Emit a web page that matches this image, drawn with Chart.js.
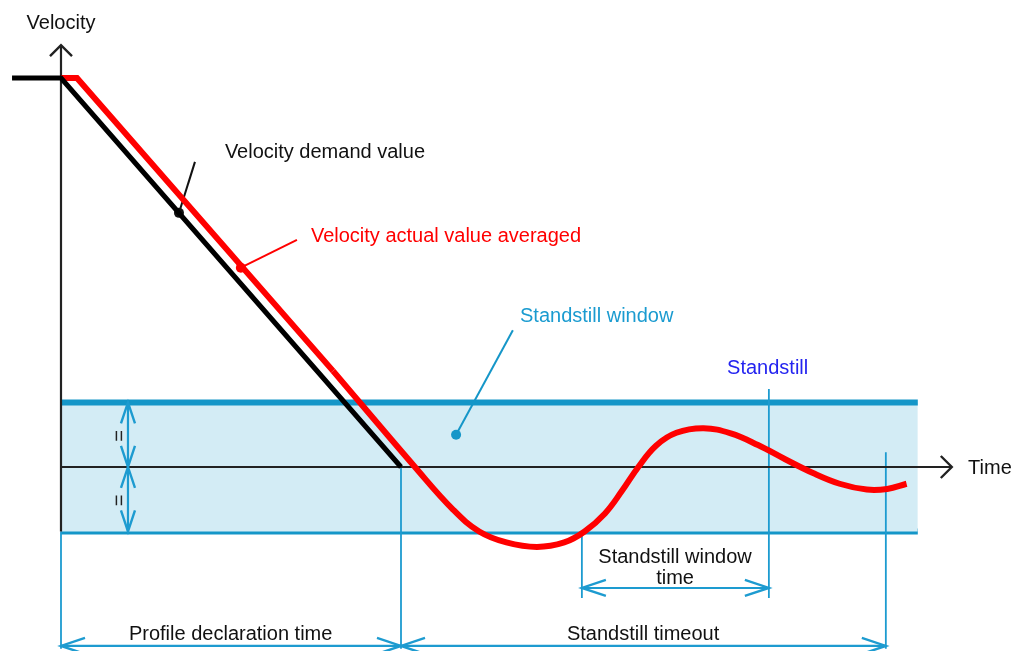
<!DOCTYPE html>
<html>
<head>
<meta charset="utf-8">
<script src="https://cdn.jsdelivr.net/npm/chart.js@4.4.0/dist/chart.umd.min.js"></script>
<style>
  html, body { margin: 0; padding: 0; background: #fff; }
  #wrap { width: 1018px; height: 651px; }
</style>
</head>
<body>
<div id="wrap"><canvas id="chart" width="1018" height="651"></canvas></div>
<script>
// time: 0 = start of ramp, 10 = demand reaches zero
// velocity: +-1 = standstill window, 6 = start velocity
const demandT = [-1.44, 0, 10];
const demandV = [6.03, 6.03, 0];

const actualRampT = [0, 0.47, 8.0];
const actualRampV = [6.03, 6.03, 1.49];
const actualWaveT = [8.0, 10.41, 11.53, 12.3, 13.1, 14.0, 14.8, 15.4, 16.0, 16.5, 16.98, 17.5, 18.1, 18.9, 19.7, 20.5, 21.3, 22.1, 22.9, 23.7, 24.3, 24.87];
const actualWaveV = [1.49, 0, -0.66, -1.0, -1.17, -1.24, -1.17, -1.0, -0.72, -0.37, 0, 0.33, 0.53, 0.6, 0.52, 0.34, 0.12, -0.09, -0.26, -0.35, -0.34, -0.26];

const windowLimit = 1;
const windowEndT = 25.2;
const timeAxisEnd = 26.2;
const velocityAxisEnd = 6.54;

// vertical guide lines
const guideT = [0, 10, 15.32, 20.82, 24.26];
const guideTop = [-1, 0, -1, 1.21, 0.23];
const guideBottom = [-2.82, -2.82, -2.03, -2.03, -2.82];

// dimension arrows (time spans)
const spanFrom = [0, 10, 15.32];
const spanTo = [10, 24.26, 20.82];
const spanLevel = [-2.775, -2.775, -1.876];

// window half-width arrows
const halfT = 1.97;
const halfFrom = [1, 0];
const halfTo = [0, -1];

// leader lines: [text end, dot]
const leaderT = [[3.94, 3.47], [6.94, 5.29], [13.29, 11.62]];
const leaderV = [[4.73, 3.94], [3.52, 3.09], [2.12, 0.5]];
const leaderColor = ['#111', '#ff0000', '#1596c8'];

const labelText = ['Velocity', 'Time', 'Velocity demand value', 'Velocity actual value averaged',
  'Standstill window', 'Standstill', 'Standstill window', 'time', 'Profile declaration time', 'Standstill timeout'];
const labelT = [0, 26.68, 4.82, 7.35, 13.5, 19.59, 18.06, 18.06, 4.99, 17.12];
const labelV = [6.87, -0.03, 4.87, 3.57, 2.34, 1.52, -1.41, -1.73, -2.6, -2.6];
const labelAlign = ['center', 'left', 'left', 'left', 'left', 'left', 'center', 'center', 'center', 'center'];
const labelColor = ['#111', '#111', '#111', '#ff0000', '#1a9bd0', '#2424f0', '#111', '#111', '#111', '#111'];

const BLUE = '#1496c8';
const THIN = '#1d9bd0';
const FONT = '20px "Liberation Sans", Arial, sans-serif';

const pts = (ts, vs) => ts.map((t, i) => ({ x: t, y: vs[i] }));

const datasets = [];

// standstill window band
datasets.push({
  data: pts([0, windowEndT], [windowLimit, windowLimit]),
  borderColor: BLUE, borderWidth: 6, backgroundColor: '#d3ecf5', fill: '+1', order: 9
});
datasets.push({
  data: pts([0, windowEndT], [-windowLimit, -windowLimit]),
  borderColor: BLUE, borderWidth: 6, fill: false, order: 9
});

// guides
guideT.forEach((t, i) => {
  datasets.push({ data: pts([t, t], [guideTop[i], guideBottom[i]]), borderColor: THIN, borderWidth: 1.8, order: 7 });
});
spanFrom.forEach((t, i) => {
  datasets.push({ data: pts([t, spanTo[i]], [spanLevel[i], spanLevel[i]]), borderColor: THIN, borderWidth: 2.2, order: 7 });
});
halfFrom.forEach((v, i) => {
  datasets.push({ data: pts([halfT, halfT], [v, halfTo[i]]), borderColor: THIN, borderWidth: 2.2, order: 7 });
});

// axes
datasets.push({ data: pts([0, timeAxisEnd], [0, 0]), borderColor: '#222', borderWidth: 2.2, order: 5 });
datasets.push({ data: pts([0, 0], [-windowLimit, velocityAxisEnd]), borderColor: '#222', borderWidth: 2.2, order: 5 });

// leaders
leaderT.forEach((ts, i) => {
  datasets.push({
    data: pts(ts, leaderV[i]), borderColor: leaderColor[i], borderWidth: 2,
    pointRadius: [0, 5], pointBackgroundColor: leaderColor[i], pointBorderWidth: 0, order: 4
  });
});

// velocity actual value averaged
datasets.push({ data: pts(actualRampT, actualRampV), borderColor: '#ff0000', borderWidth: 6, order: 3 });
datasets.push({ data: pts(actualWaveT, actualWaveV), borderColor: '#ff0000', borderWidth: 6, tension: 0.4, order: 3 });

// velocity demand value
datasets.push({ data: pts(demandT, demandV), borderColor: '#000', borderWidth: 5, order: 1 });

datasets.forEach(d => {
  if (d.pointRadius === undefined) d.pointRadius = 0;
  d.borderCapStyle = 'butt';
  d.borderJoinStyle = 'miter';
});

function head(ctx, tx, ty, dx, dy, len, half) {
  const n = Math.hypot(dx, dy);
  dx /= n; dy /= n;
  ctx.beginPath();
  ctx.moveTo(tx - dx * len - dy * half, ty - dy * len + dx * half);
  ctx.lineTo(tx, ty);
  ctx.lineTo(tx - dx * len + dy * half, ty - dy * len - dx * half);
  ctx.stroke();
}

const decor = {
  id: 'decor',
  afterDatasetsDraw(chart) {
    const { ctx, scales: { x, y } } = chart;
    const X = t => x.getPixelForValue(t);
    const Y = v => y.getPixelForValue(v);
    ctx.save();
    ctx.lineCap = 'butt';
    ctx.lineJoin = 'miter';

    // axis arrow heads
    ctx.strokeStyle = '#222';
    ctx.lineWidth = 2.4;
    head(ctx, X(timeAxisEnd), Y(0), 1, 0, 11, 11);
    head(ctx, X(0), Y(velocityAxisEnd), 0, -1, 11, 11);

    // dimension arrow heads
    ctx.strokeStyle = THIN;
    ctx.lineWidth = 2.4;
    spanFrom.forEach((t, i) => {
      const py = Y(spanLevel[i]);
      head(ctx, X(t), py, -1, 0, 24, 8);
      head(ctx, X(spanTo[i]), py, 1, 0, 24, 8);
    });
    halfFrom.forEach((v, i) => {
      head(ctx, X(halfT), Y(v), 0, Y(v) - Y(halfTo[i]), 21, 7);
      head(ctx, X(halfT), Y(halfTo[i]), 0, Y(halfTo[i]) - Y(v), 21, 7);
      // equal marks
      ctx.save();
      ctx.fillStyle = '#222';
      ctx.translate(X(halfT) - 10, (Y(v) + Y(halfTo[i])) / 2 + 1);
      ctx.rotate(Math.PI / 2);
      ctx.font = '20px "Liberation Sans", Arial, sans-serif';
      ctx.textAlign = 'center';
      ctx.textBaseline = 'middle';
      ctx.fillText('=', 0, 0);
      ctx.restore();
    });

    // labels
    ctx.font = FONT;
    ctx.textBaseline = 'middle';
    labelText.forEach((s, i) => {
      ctx.fillStyle = labelColor[i];
      ctx.textAlign = labelAlign[i];
      ctx.fillText(s, X(labelT[i]), Y(labelV[i]));
    });
    ctx.restore();
  }
};

new Chart(document.getElementById('chart'), {
  type: 'line',
  data: { datasets },
  options: {
    responsive: false,
    animation: false,
    devicePixelRatio: 1,
    parsing: false,
    layout: { padding: 0, autoPadding: false },
    plugins: { legend: { display: false }, tooltip: { enabled: false } },
    elements: { line: { tension: 0 } },
    scales: {
      // ranges fitted so the plot fills the whole 1018x651 canvas
      x: { type: 'linear', display: false, min: -1.794, max: 28.147 },
      y: { type: 'linear', display: false, min: -2.853, max: 7.240 }
    }
  },
  plugins: [decor]
});
</script>
</body>
</html>
